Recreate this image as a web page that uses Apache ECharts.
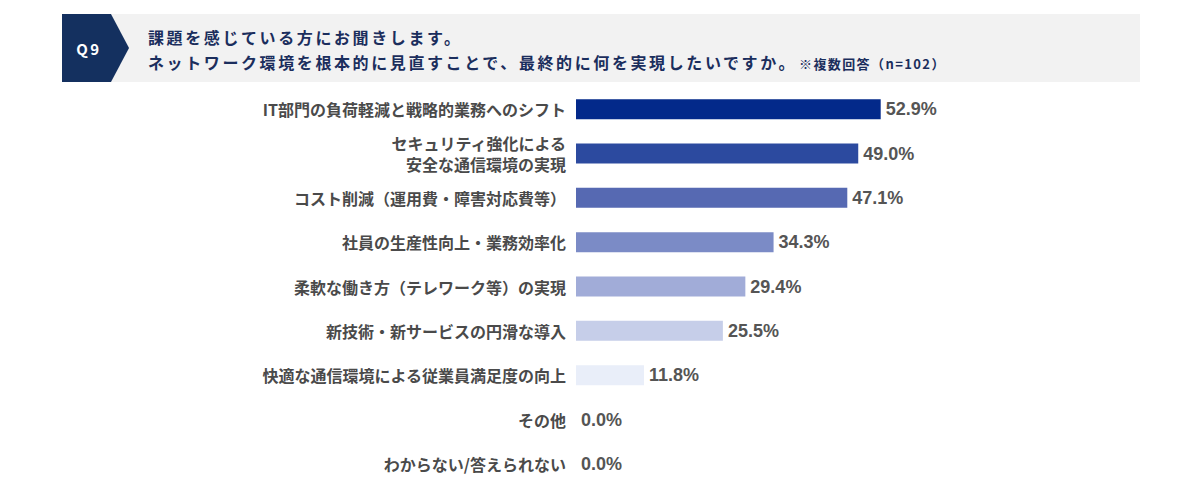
<!DOCTYPE html>
<html>
<head>
<meta charset="utf-8">
<script src="https://cdn.jsdelivr.net/npm/echarts@6/dist/echarts.min.js"></script>
<style>
  html, body { margin: 0; padding: 0; background: #fff; }
  #main { width: 1200px; height: 486px; }
  /* header text is tracked out like the original */
  #main text[style*="hdrq"], #main text[font-family*="hdrq"] { letter-spacing: 2.6px; }
  #main text[style*="hdrn"], #main text[font-family*="hdrn"] { letter-spacing: 1.4px; }
</style>
</head>
<body>
<div id="main"></div>
<script>
var categories = [
  'IT部門の負荷軽減と戦略的業務へのシフト',
  'セキュリティ強化による\n安全な通信環境の実現',
  'コスト削減（運用費・障害対応費等）',
  '社員の生産性向上・業務効率化',
  '柔軟な働き方（テレワーク等）の実現',
  '新技術・新サービスの円滑な導入',
  '快適な通信環境による従業員満足度の向上',
  'その他',
  'わからない/答えられない'
];
var values = [52.9, 49.0, 47.1, 34.3, 29.4, 25.5, 11.8, 0.0, 0.0];
var barColors = ['#03298a', '#2c4a9f', '#5669b2', '#7b8bc6', '#a1acd8', '#c6cee9', '#e9eef9', '#eef1fa', '#eef1fa'];

var questionNo = 'Q9';
var titleLine1 = '課題を感じている方にお聞きします。';
var titleLine2 = 'ネットワーク環境を根本的に見直すことで、最終的に何を実現したいですか。';
var titleNote = '※複数回答（n=102）';

var myChart = echarts.init(document.getElementById('main'), null, {renderer: 'svg'});

var navy = '#1b2e5d';
var hdrFont = "'Noto Sans CJK JP', hdrq";

var option = {
  animation: false,
  grid: {
    left: 576,
    width: 576,
    top: 87,
    height: 403,
    containLabel: false
  },
  xAxis: {
    type: 'value',
    min: 0,
    max: 100,
    show: false
  },
  yAxis: {
    type: 'category',
    inverse: true,
    data: categories,
    axisLine: {show: false},
    axisTick: {show: false},
    axisLabel: {
      margin: 10,
      color: '#4a4a4a',
      fontSize: 16,
      fontWeight: 'bold',
      lineHeight: 21,
      fontFamily: "'Noto Sans CJK JP', sans-serif"
    }
  },
  series: [{
    type: 'bar',
    barWidth: 20,
    data: values.map(function (v, i) {
      return {value: v, itemStyle: {color: barColors[i]}};
    }),
    label: {
      show: true,
      position: 'right',
      distance: 5,
      color: '#555555',
      fontSize: 18,
      fontWeight: 'bold',
      fontFamily: "'Liberation Sans', Arial, sans-serif",
      formatter: function (p) { return p.value.toFixed(1) + '%'; }
    }
  }],
  graphic: [
    {
      type: 'rect',
      shape: {x: 62, y: 14, width: 1078, height: 68},
      style: {fill: '#f2f2f2'},
      silent: true
    },
    {
      type: 'polygon',
      shape: {points: [[62, 14], [111, 14], [129, 48], [111, 82], [62, 82]]},
      style: {fill: '#14305f'},
      silent: true
    },
    {
      type: 'text',
      x: 89,
      y: 48,
      style: {
        text: questionNo,
        fill: '#ffffff',
        font: "bold 15px " + hdrFont,
        align: 'center',
        verticalAlign: 'middle'
      },
      silent: true
    },
    {
      type: 'text',
      x: 148,
      y: 37,
      style: {
        text: titleLine1,
        fill: navy,
        font: "bold 16px " + hdrFont,
        verticalAlign: 'middle'
      },
      silent: true
    },
    {
      type: 'text',
      x: 148,
      y: 62,
      style: {
        text: titleLine2,
        fill: navy,
        font: "bold 16px " + hdrFont,
        verticalAlign: 'middle'
      },
      silent: true
    },
    {
      type: 'text',
      x: 799,
      y: 63,
      style: {
        text: titleNote,
        fill: navy,
        font: "bold 13px 'Noto Sans CJK JP', hdrn",
        verticalAlign: 'middle'
      },
      silent: true
    }
  ]
};

myChart.setOption(option);
</script>
</body>
</html>
